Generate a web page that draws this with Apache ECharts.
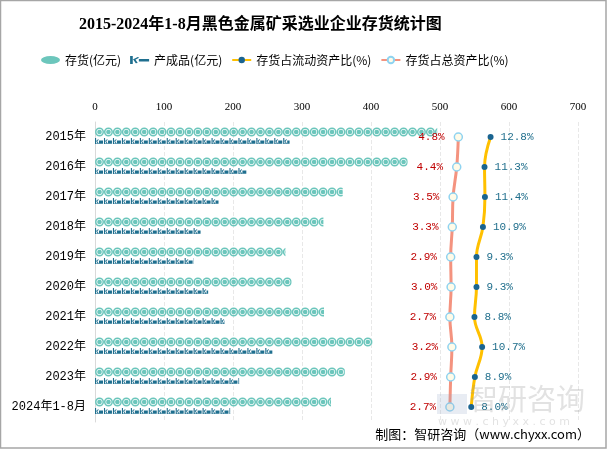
<!DOCTYPE html>
<html>
<head>
<meta charset="utf-8">
<script src="https://cdn.jsdelivr.net/npm/echarts@6/dist/echarts.min.js"></script>
<style>
html,body{margin:0;padding:0;background:#fff;}
#main{width:607px;height:449px;}
</style>
</head>
<body>
<div id="main"></div>
<script>
var categories = ['2015年','2016年','2017年','2018年','2019年','2020年','2021年','2022年','2023年','2024年1-8月'];
var inventory = [496, 453, 359, 331, 276, 285, 332, 402, 362, 342];
var finished = [282, 220, 179, 153, 143, 164, 188, 257, 209, 196];
var ratioCurrent = [12.8, 11.3, 11.4, 10.9, 9.3, 9.3, 8.8, 10.7, 8.9, 8.0];
var ratioTotal = [4.8, 4.4, 3.5, 3.3, 2.9, 3.0, 2.7, 3.2, 2.9, 2.7];
var xTicks = [0, 100, 200, 300, 400, 500, 600, 700];

var circleSym = 'path://M50,0A50,50 0 1,1 49.9,0Z M50,17A33,33 0 1,0 50.1,17Z M50,24A26,26 0 1,1 49.9,24Z';
var figSym = 'path://M0,0L14,0L14,100L0,100Z M14,50L38,20L48,28L22,60Z M18,58L28,52L44,86L34,90Z M50,42L100,42L100,88L50,88Z M0,90L100,90L100,100L0,100Z';

function pct(p) { return p.value.toFixed(1) + '%'; }

var chart = echarts.init(document.getElementById('main'));
chart.setOption({
  animation: false,
  backgroundColor: '#fff',
  title: {
    text: '2015-2024年1-8月黑色金属矿采选业企业存货统计图',
    left: 74, top: 12,
    textStyle: {fontSize: 16, fontWeight: 'bold', color: '#000', fontFamily: '"Liberation Serif","Noto Sans CJK SC",serif'}
  },
  legend: {
    left: 36, top: 49, itemWidth: 19, itemHeight: 8, itemGap: 9, symbolKeepAspect: false,
    textStyle: {fontSize: 12, color: '#000', fontFamily: '"Noto Sans CJK SC",sans-serif'},
    data: [
      {name: '存货(亿元)', icon: 'path://M50,0A50,50 0 1,1 49.9,0Z'},
      {name: '产成品(亿元)', icon: 'path://M0,20L14,20L14,100L0,100Z M14,55L40,30L48,38L22,62Z M18,60L28,54L40,90L30,92Z M46,50L100,50L100,75L46,75Z'},
      '存货占流动资产比(%)', '存货占总资产比(%)'
    ]
  },
  grid: [
    {left: 95, right: 29, top: 122, bottom: 27},
    {left: 439, right: 29, top: 122, bottom: 27}
  ],
  xAxis: [
    {type: 'value', gridIndex: 0, position: 'top', min: xTicks[0], max: xTicks[xTicks.length-1], interval: 100,
     axisLine: {show: false}, axisTick: {show: false},
     axisLabel: {fontSize: 11, color: '#000', margin: 9, fontFamily: '"Liberation Serif",serif'},
     splitLine: {show: true, lineStyle: {color: '#e8e8e8', type: 'dashed'}}},
    {type: 'value', gridIndex: 1, min: 0, max: 34.5, show: false}
  ],
  yAxis: [
    {type: 'category', gridIndex: 0, data: categories, inverse: true,
     axisLine: {show: true, lineStyle: {color: '#d9d9d9'}}, axisTick: {show: false},
     axisLabel: {fontSize: 12, color: '#000', margin: 9, fontFamily: '"Liberation Mono","Noto Sans CJK SC",monospace'}},
    {type: 'category', gridIndex: 1, data: categories, inverse: true, show: false}
  ],
  graphic: [
    {type: 'rect', shape: {x: 0.5, y: 0.5, width: 605.5, height: 447.5}, style: {fill: 'none', stroke: '#a6a6a6', lineWidth: 1.5}, silent: true, z: 100},
    {type: 'rect', shape: {x: 437, y: 394, width: 30, height: 20}, style: {fill: 'rgba(150,170,200,0.22)'}, silent: true, z: 50},
    {type: 'text', left: 469, top: 384, style: {text: '智研咨询', fontSize: 29, fill: 'rgba(150,150,150,0.28)', fontFamily: '"Noto Sans CJK SC",sans-serif'}, silent: true, z: 50},
    {type: 'text', left: 438, top: 417, style: {text: 'w w w . c h y x x . c o m', fontSize: 11, fill: 'rgba(150,150,150,0.28)', fontFamily: '"DejaVu Sans",sans-serif'}, silent: true, z: 50},
    {type: 'text', right: 17, top: 428, style: {text: '制图：智研咨询（www.chyxx.com）', fontSize: 13, fill: '#000', fontFamily: '"Noto Sans CJK SC",sans-serif'}, silent: true, z: 60}
  ],
  series: [
    {name: '存货(亿元)', type: 'pictorialBar', xAxisIndex: 0, yAxisIndex: 0, data: inventory,
     symbol: circleSym, symbolRepeat: true, symbolClip: true, symbolSize: [9, 9], symbolMargin: 0,
     symbolOffset: [0, -5], barGap: '-100%', barWidth: 9,
     itemStyle: {color: '#6cc6bc'}},
    {name: '产成品(亿元)', type: 'pictorialBar', xAxisIndex: 0, yAxisIndex: 0, data: finished,
     symbol: figSym, symbolRepeat: true, symbolClip: true, symbolSize: [8, 6], symbolMargin: 0.5,
     symbolOffset: [0, 4], barGap: '-100%', barWidth: 9,
     itemStyle: {color: '#1f6f8f'}},
    {name: '存货占流动资产比(%)', type: 'line', xAxisIndex: 1, yAxisIndex: 1, data: ratioCurrent,
     smooth: 0.4, symbol: 'circle', symbolSize: 6,
     lineStyle: {color: '#ffc000', width: 3},
     itemStyle: {color: '#1a6491'},
     label: {show: true, position: 'right', distance: 7, formatter: pct, color: '#1f6e8c', fontSize: 11, fontFamily: '"Liberation Mono",monospace'}},
    {name: '存货占总资产比(%)', type: 'line', xAxisIndex: 1, yAxisIndex: 1, data: ratioTotal,
     smooth: 0.4, symbol: 'circle', symbolSize: 8,
     lineStyle: {color: '#f4937f', width: 3},
     itemStyle: {color: '#fffbe8', borderColor: '#8fd3f0', borderWidth: 1.5},
     label: {show: true, position: 'left', distance: 9, formatter: pct, color: '#c00000', fontSize: 11, fontFamily: '"Liberation Mono",monospace'}}
  ]
});
</script>
</body>
</html>
